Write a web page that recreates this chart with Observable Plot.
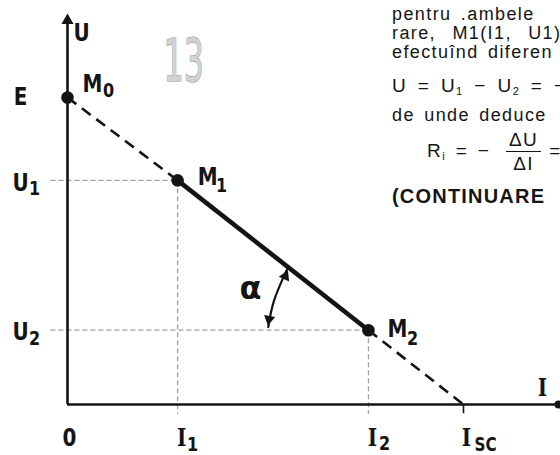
<!DOCTYPE html>
<html>
<head>
<meta charset="utf-8">
<script src="https://cdn.jsdelivr.net/npm/d3@7"></script>
<script src="https://cdn.jsdelivr.net/npm/@observablehq/plot@0.6"></script>
<style>
  html, body { margin: 0; padding: 0; background: #fff; overflow: hidden; }
  #wrap { position: relative; width: 560px; height: 455px; overflow: hidden; background: #fff; }
  #txt { position: absolute; left: 0; top: 0; width: 560px; height: 455px; font-family: "Liberation Sans", Arial, sans-serif; font-size: 18px; color: #151515; }
  #txt .ln { position: absolute; left: 392px; white-space: nowrap; letter-spacing: 1.4px; word-spacing: 3px; line-height: 18px; }
  #txt sub { font-size: 11px; vertical-align: -3px; }
  .frac { display: inline-block; vertical-align: middle; text-align: center; margin: 0 8px 0 6px; }
  .frac span { display: block; line-height: 23px; }
  .frac .num { border-bottom: 1.6px solid #151515; padding: 0 3px; }
</style>
</head>
<body>
<div id="wrap">
  <div id="chart"></div>
  <div id="txt">
    <div class="ln" style="top:5px">pentru .ambele</div>
    <div class="ln" style="top:24px; word-spacing:10px">rare, M1(I1, U1)</div>
    <div class="ln" style="top:43px">efectuînd diferen</div>
    <div class="ln" style="top:77px; word-spacing:4px; font-size:19px">U = U<sub>1</sub> − U<sub>2</sub> = −</div>
    <div class="ln" style="top:106px">de unde deduce</div>
    <div class="ln" style="top:128px; left:427px; font-size:19px">R<sub>i</sub> = − <span class="frac"><span class="num">ΔU</span><span>ΔI</span></span>=</div>
    <div class="ln" style="top:187px; font-weight:bold; font-size:20px; letter-spacing:1.2px">(CONTINUARE</div>
  </div>
</div>
<script>
// ---- data (arbitrary units) ----
const pointNames = ["M", "M", "M"];
const pointSubs  = ["0", "1", "2"];
const currents   = [0, 2.78, 7.6];     // I of M0, M1, M2
const voltages   = [10, 7.3, 2.42];    // U of M0 (=E), M1, M2
const iSC = 10;                        // short-circuit current
const iMax = 12.45;                    // end of the I axis
const uMax = 12.67;                    // end of the U axis
const yTickLabels = ["E", "U", "U"];   // labels on the U axis
const yTickSubs   = ["", "1", "2"];
const xTickLabels = ["0", "I", "I", "I"];
const xTickSubs   = ["", "1", "2", "SC"];
const alphaArcI = [5.56, 5.22, 5.07];  // curved angle marker
const alphaArcU = [4.45, 3.40, 2.52];
const figureNumber = "13";

const points = currents.map((I, i) => ({name: pointNames[i] + pointSubs[i], I, U: voltages[i]}));
const [M0, M1, M2] = points;
const guides = [M1, M2];
const arc = alphaArcI.map((I, i) => ({I, U: alphaArcU[i]}));
const heads = [
  {I: 5.50, U: 4.18, rot: 24},
  {I: 5.09, U: 2.78, rot: 190}
];
const xTickValues = [0, currents[1], currents[2], iSC];

const ink = "#141414";
const gray = "#a0a0a0";
const sans = "DejaVu Sans, sans-serif";
const serif = "DejaVu Serif, serif";

// label layout (styling offsets only; positions come from the data above)
const labels = [
  ...points.map((p, i) => ({I: p.I, U: p.U, t: pointNames[i], s: pointSubs[i], font: sans,
     dx: [25, 30, 29][i], dy: [-13, -3, -1][i], sdx: [41, 44, 44][i], sdy: [-7, 5, 8][i]})),
  ...voltages.map((U, i) => ({I: 0, U, t: yTickLabels[i], s: yTickSubs[i], font: sans,
     dx: [-47, -47, -47][i], dy: [0, 3, 2][i], sdx: -33, sdy: [0, 8, 8][i]})),
  ...xTickValues.map((I, i) => ({I, U: 0, t: xTickLabels[i], s: xTickSubs[i], font: i === 0 ? sans : serif,
     dx: [2, 4, 4, 3][i], dy: [33, 33, 33, 33][i], sdx: [0, 15, 16, 22][i], sdy: [0, 40, 39, 40][i]})),
  {I: 0, U: uMax, t: "U", s: "", font: sans, dx: 14, dy: 17, sdx: 0, sdy: 0},
  {I: iMax, U: 0, t: "I", s: "", font: serif, dx: -18, dy: -17, sdx: 0, sdy: 0}
];

const labelMarks = labels.flatMap(l => [
  Plot.text([l], {x: "I", y: "U", text: "t", dx: l.dx, dy: l.dy, fontSize: 25, fontWeight: "bold",
    fontFamily: l.font, fill: ink, ariaDescription: "cond"}),
  Plot.text([l], {x: "I", y: "U", text: "s", dx: l.sdx, dy: l.sdy, fontSize: l.s === "SC" ? 19 : 20, fontWeight: "bold",
    fontFamily: sans, fill: ink, ariaDescription: "cond"})
]);

const plot = Plot.plot({
  width: 560, height: 455,
  marginLeft: 67, marginRight: 0, marginTop: 15, marginBottom: 51,
  x: {domain: [0, iMax], axis: null},
  y: {domain: [0, uMax], axis: null},
  style: {background: "transparent", overflow: "visible"},
  marks: [
    Plot.link(guides, {x1: -0.43, x2: "I", y1: "U", y2: "U", stroke: gray, strokeWidth: 1.3, strokeDasharray: "5,3"}),
    Plot.link(guides, {x1: "I", x2: "I", y1: "U", y2: -0.3, stroke: gray, strokeWidth: 1.3, strokeDasharray: "5,3"}),
    Plot.ruleX([0], {y1: 0, y2: uMax - 0.2, stroke: ink, strokeWidth: 2.6}),
    Plot.ruleY([0], {x1: 0, x2: iMax, stroke: ink, strokeWidth: 2.6}),
    Plot.dot([{I: 0, U: uMax}], {x: "I", y: "U", symbol: "triangle", r: 4.5, fill: ink, dy: 5}),
    Plot.dot([{I: iMax, U: 0}], {x: "I", y: "U", r: 4, fill: ink, dx: -2}),
    Plot.ruleX([iSC], {y1: -0.3, y2: 0, stroke: ink, strokeWidth: 1.6}),
    Plot.link([{a: M0, b: M1}, {a: M2, b: {I: iSC, U: 0}}], {
      x1: d => d.a.I, y1: d => d.a.U, x2: d => d.b.I, y2: d => d.b.U,
      stroke: ink, strokeWidth: 2.6, strokeDasharray: "11,7"
    }),
    Plot.link([{a: M1, b: M2}], {
      x1: d => d.a.I, y1: d => d.a.U, x2: d => d.b.I, y2: d => d.b.U,
      stroke: ink, strokeWidth: 4.6
    }),
    Plot.dot(points, {x: "I", y: "U", r: 6.3, fill: ink}),
    Plot.line(arc, {x: "I", y: "U", curve: "natural", stroke: ink, strokeWidth: 2.2}),
    Plot.dot(heads, {x: "I", y: "U", symbol: "triangle", rotate: "rot", r: 4.2, fill: ink}),
    Plot.text(["α"], {x: 4.62, y: 3.78, text: d => d, fontSize: 32, fontWeight: "bold", fontFamily: sans, fill: ink}),
    ...labelMarks,
    Plot.text([figureNumber], {frameAnchor: "top-left", dx: 96, dy: 24, text: d => d, fontSize: 58, fontFamily: sans,
      fill: "#d2d2d2", stroke: "#8f8f8f", strokeWidth: 1.2, ariaDescription: "num"})
  ]
});

document.getElementById("chart").appendChild(plot);
const svg = d3.select(plot);
svg.selectAll("g[aria-description='cond'] text").each(function() {
  const t = d3.select(this);
  t.attr("transform", (t.attr("transform") || "") + " scale(0.8,1)");
});
svg.selectAll("g[aria-description='num'] text").each(function() {
  const t = d3.select(this);
  t.attr("transform", (t.attr("transform") || "") + " scale(0.55,1)");
});
</script>
</body>
</html>
